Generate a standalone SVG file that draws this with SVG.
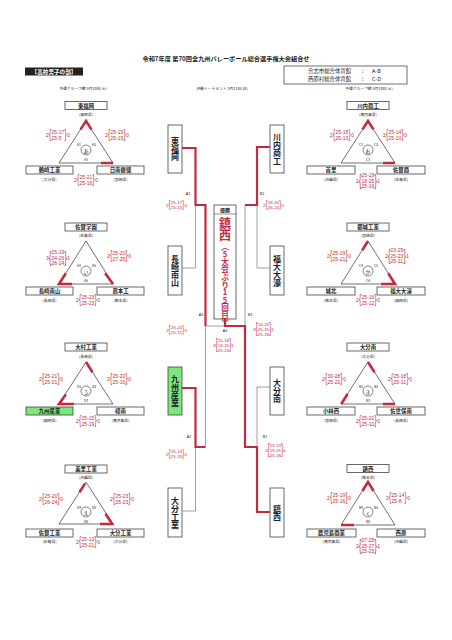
<svg xmlns="http://www.w3.org/2000/svg" width="452" height="640" viewBox="0 0 452 640">
<style>
text{font-family:"Noto Sans CJK JP","Noto Sans",sans-serif;fill:#222}
.title{font-size:6.2px;font-weight:bold;text-anchor:middle}
.sub{font-size:3.8px;text-anchor:middle}
.box{fill:#fff;stroke:#444;stroke-width:0.8}
.green{fill:#7ee67e}
.tn{font-size:5.4px;font-weight:bold;text-anchor:middle;dominant-baseline:central}
.pf{font-size:3.8px;text-anchor:middle;dominant-baseline:central}
.tri{fill:none;stroke:#333;stroke-width:0.7}
.win{fill:none;stroke:#c42a3e;stroke-width:2.6;stroke-linejoin:miter}
.cir{fill:none;stroke:#333;stroke-width:0.6}
.gl{font-size:5px;text-anchor:middle;dominant-baseline:central}
.lb{font-size:3.4px;text-anchor:middle;dominant-baseline:central}
.sc text{font-family:"Liberation Sans",Arial,sans-serif;fill:#c42a3e;font-size:5px}
.sc text.b2{font-size:12px}
.sc text.b3{font-size:17px}
.sm text{font-size:4.4px}
.sm text.b2{font-size:10.5px}
.sm text.b3{font-size:15px}
.vt{font-size:8px;font-weight:bold;writing-mode:vertical-rl;text-orientation:upright;text-anchor:middle}
.gray{fill:none;stroke:#888;stroke-width:0.8}
.red{fill:none;stroke:#c42a3e;stroke-width:2.2}
.mlb{font-size:3.6px;text-anchor:middle;font-family:"Liberation Sans",sans-serif}
</style>
<rect width="452" height="640" fill="#fff"/>

<g id="header">
<text class="title" x="226" y="61">令和7年度 第70回全九州バレーボール総合選手権大会組合せ</text>
<rect x="25" y="67.5" width="58" height="8" fill="#222"/>
<text x="54" y="73.6" style="font-size:5.6px;fill:#fff;text-anchor:middle;font-weight:bold">【高校男子の部】</text>
<rect x="284" y="66" width="123" height="18" fill="#fff" stroke="#333" stroke-width="0.7"/>
<text x="308" y="73" style="font-size:5.4px">合志市総合体育館</text>
<text x="362" y="73" style="font-size:5.4px">:</text>
<text x="372" y="73" style="font-size:5.4px">A-B</text>
<text x="308" y="81" style="font-size:5.4px">西原村総合体育館</text>
<text x="362" y="81" style="font-size:5.4px">:</text>
<text x="372" y="81" style="font-size:5.4px">C-D</text>
<text class="sub" x="83" y="89.5">予選グループ戦 5月10日(土)</text>
<text class="sub" x="222" y="89.5">決勝トーナメント 5月11日(日)</text>
<text class="sub" x="369" y="89.5">予選グループ戦 5月10日(土)</text>
</g>

<!-- Left group 1 -->
<g id="groupL1">
<rect class="box" x="65" y="101.5" width="42" height="8"/><text class="tn" x="86" y="105.5">東福岡</text><text class="pf" x="86" y="114">(福岡県)</text>
<path class="tri" d="M86,121 L59,163 L113,163 Z"/>
<path class="win" d="M80.6,129.4 L86,121 L91.4,129.4 M101,163 L113,163"/>
<circle class="cir" cx="86" cy="150" r="5"/><text class="gl" x="86" y="150">あ</text>
<text class="lb" x="79" y="144">A1</text><text class="lb" x="94" y="144">A2</text><text class="lb" x="86" y="159">A3</text>
<rect class="box" x="26" y="166" width="47" height="8"/><text class="tn" x="49.5" y="170">鶴崎工業</text><text class="pf" x="49.5" y="179">(大分県)</text>
<rect class="box" x="97" y="166" width="47" height="8"/><text class="tn" x="120.5" y="170">日南振徳</text><text class="pf" x="120.5" y="179">(宮崎県)</text>
<g class="sc" transform="translate(46,135)"><text x="0" y="1.8">2</text><text class="b2" transform="translate(3,3.4) scale(0.55,1)">{</text><text x="5.6" y="-1.2">25-17</text><text x="5.6" y="4.8">25-5</text><text class="b2" transform="translate(18.6,3.4) scale(0.55,1)">}</text><text x="21.2" y="1.8">0</text></g>
<g class="sc" transform="translate(105,135)"><text x="0" y="1.8">2</text><text class="b2" transform="translate(3,3.4) scale(0.55,1)">{</text><text x="5.6" y="-1.2">25-19</text><text x="5.6" y="4.8">25-15</text><text class="b2" transform="translate(18.6,3.4) scale(0.55,1)">}</text><text x="21.2" y="1.8">0</text></g>
<g class="sc" transform="translate(74,180)"><text x="0" y="1.8">2</text><text class="b2" transform="translate(3,3.4) scale(0.55,1)">{</text><text x="5.6" y="-1.2">25-21</text><text x="5.6" y="4.8">25-16</text><text class="b2" transform="translate(18.6,3.4) scale(0.55,1)">}</text><text x="21.2" y="1.8">0</text></g>
</g>

<!-- Left group 2 -->
<g id="groupL2">
<rect class="box" x="65" y="223" width="42" height="8"/><text class="tn" x="86" y="227">佐賀学園</text><text class="pf" x="86" y="235.5">(佐賀県)</text>
<path class="tri" d="M86,241 L59,284 L113,284 Z"/>
<path class="win" d="M65.8,273.2 L59,284 L72,284 M105.2,273.2 L113,284"/>
<circle class="cir" cx="86" cy="271" r="5"/><text class="gl" x="86" y="271">い</text>
<text class="lb" x="79" y="265">A4</text><text class="lb" x="94" y="265">A5</text><text class="lb" x="86" y="280">A6</text>
<rect class="box" x="26" y="287" width="47" height="8"/><text class="tn" x="49.5" y="291">長崎南山</text><text class="pf" x="49.5" y="300">(長崎県)</text>
<rect class="box" x="97" y="287" width="47" height="8"/><text class="tn" x="120.5" y="291">熊本工</text><text class="pf" x="120.5" y="300">(熊本県)</text>
<g class="sc" transform="translate(46,258)"><text x="0" y="1.8">3</text><text class="b3" transform="translate(3,4.7) scale(0.42,1)">{</text><text x="5.6" y="-3.8">25-19</text><text x="5.6" y="1.8">24-26</text><text x="5.6" y="7.4">26-24</text><text class="b3" transform="translate(18.6,4.7) scale(0.42,1)">}</text><text x="21.2" y="1.8">1</text></g>
<g class="sc" transform="translate(107,256)"><text x="0" y="1.8">2</text><text class="b2" transform="translate(3,3.4) scale(0.55,1)">{</text><text x="5.6" y="-1.2">25-20</text><text x="5.6" y="4.8">27-25</text><text class="b2" transform="translate(18.6,3.4) scale(0.55,1)">}</text><text x="21.2" y="1.8">0</text></g>
<g class="sc" transform="translate(76,300)"><text x="0" y="1.8">2</text><text class="b2" transform="translate(3,3.4) scale(0.55,1)">{</text><text x="5.6" y="-1.2">25-23</text><text x="5.6" y="4.8">25-23</text><text class="b2" transform="translate(18.6,3.4) scale(0.55,1)">}</text><text x="21.2" y="1.8">0</text></g>
</g>

<!-- Left group 3 -->
<g id="groupL3">
<rect class="box" x="65" y="343" width="42" height="8"/><text class="tn" x="86" y="347">大村工業</text><text class="pf" x="86" y="356">(長崎県)</text>
<path class="tri" d="M86,362 L59,404 L113,404 Z"/>
<path class="win" d="M86,362 L92.5,372.2 M65.8,394.6 L59,404 L74,404"/>
<circle class="cir" cx="86" cy="391" r="5"/><text class="gl" x="86" y="391">う</text>
<text class="lb" x="79" y="386">D1</text><text class="lb" x="94" y="386">D2</text><text class="lb" x="86" y="400">D3</text>
<rect class="box green" x="26" y="407" width="47" height="8"/><text class="tn" x="49.5" y="411">九州産業</text><text class="pf" x="49.5" y="420">(福岡県)</text>
<rect class="box" x="97" y="407" width="47" height="8"/><text class="tn" x="120.5" y="411">樟南</text><text class="pf" x="120.5" y="420">(鹿児島県)</text>
<g class="sc" transform="translate(39,379)"><text x="0" y="1.8">2</text><text class="b2" transform="translate(3,3.4) scale(0.55,1)">{</text><text x="5.6" y="-1.2">25-21</text><text x="5.6" y="4.8">25-21</text><text class="b2" transform="translate(18.6,3.4) scale(0.55,1)">}</text><text x="21.2" y="1.8">0</text></g>
<g class="sc" transform="translate(107,379)"><text x="0" y="1.8">2</text><text class="b2" transform="translate(3,3.4) scale(0.55,1)">{</text><text x="5.6" y="-1.2">25-20</text><text x="5.6" y="4.8">25-16</text><text class="b2" transform="translate(18.6,3.4) scale(0.55,1)">}</text><text x="21.2" y="1.8">0</text></g>
<g class="sc" transform="translate(76,421)"><text x="0" y="1.8">2</text><text class="b2" transform="translate(3,3.4) scale(0.55,1)">{</text><text x="5.6" y="-1.2">25-15</text><text x="5.6" y="4.8">25-19</text><text class="b2" transform="translate(18.6,3.4) scale(0.55,1)">}</text><text x="21.2" y="1.8">0</text></g>
</g>

<!-- Left group 4 -->
<g id="groupL4">
<rect class="box" x="65" y="465" width="42" height="8"/><text class="tn" x="86" y="469">美里工業</text><text class="pf" x="86" y="477.5">(沖縄県)</text>
<path class="tri" d="M86,482 L59,524 L113,524 Z"/>
<path class="win" d="M85,483.6 L79.5,492.2 M105.5,513.8 L112.2,524 L100,524"/>
<circle class="cir" cx="86" cy="512" r="5"/><text class="gl" x="86" y="512">え</text>
<text class="lb" x="79" y="507">D4</text><text class="lb" x="94" y="507">D5</text><text class="lb" x="86" y="521">D6</text>
<rect class="box" x="26" y="529" width="47" height="8"/><text class="tn" x="49.5" y="533">佐賀工業</text><text class="pf" x="49.5" y="541.5">(佐賀県)</text>
<rect class="box" x="97" y="529" width="47" height="8"/><text class="tn" x="120.5" y="533">大分工業</text><text class="pf" x="120.5" y="541.5">(大分県)</text>
<g class="sc" transform="translate(39,499)"><text x="0" y="1.8">2</text><text class="b2" transform="translate(3,3.4) scale(0.55,1)">{</text><text x="5.6" y="-1.2">25-20</text><text x="5.6" y="4.8">26-24</text><text class="b2" transform="translate(18.6,3.4) scale(0.55,1)">}</text><text x="21.2" y="1.8">0</text></g>
<g class="sc" transform="translate(110,499)"><text x="0" y="1.8">2</text><text class="b2" transform="translate(3,3.4) scale(0.55,1)">{</text><text x="5.6" y="-1.2">25-23</text><text x="5.6" y="4.8">25-23</text><text class="b2" transform="translate(18.6,3.4) scale(0.55,1)">}</text><text x="21.2" y="1.8">0</text></g>
<g class="sc" transform="translate(76,542)"><text x="0" y="1.8">2</text><text class="b2" transform="translate(3,3.4) scale(0.55,1)">{</text><text x="5.6" y="-1.2">25-13</text><text x="5.6" y="4.8">25-21</text><text class="b2" transform="translate(18.6,3.4) scale(0.55,1)">}</text><text x="21.2" y="1.8">0</text></g>
</g>

<!-- Right group 1 -->
<g id="groupR1">
<rect class="box" x="347" y="101.5" width="42" height="8"/><text class="tn" x="368" y="105.5">川内商工</text><text class="pf" x="368" y="114">(鹿児島県)</text>
<path class="tri" d="M368,121 L341,163 L395,163 Z"/>
<path class="win" d="M362.6,129.4 L368,121 L373.4,129.4 M383,163 L395,163"/>
<circle class="cir" cx="368" cy="150" r="5"/><text class="gl" x="368" y="150">お</text>
<text class="lb" x="361" y="144">C1</text><text class="lb" x="376" y="144">C2</text><text class="lb" x="368" y="159">C3</text>
<rect class="box" x="307" y="166" width="48" height="8"/><text class="tn" x="331" y="170">首里</text><text class="pf" x="331" y="179">(沖縄県)</text>
<rect class="box" x="377" y="166" width="48" height="8"/><text class="tn" x="401" y="170">佐賀商</text><text class="pf" x="401" y="179">(佐賀県)</text>
<g class="sc" transform="translate(330,135)"><text x="0" y="1.8">2</text><text class="b2" transform="translate(3,3.4) scale(0.55,1)">{</text><text x="5.6" y="-1.2">25-18</text><text x="5.6" y="4.8">25-13</text><text class="b2" transform="translate(18.6,3.4) scale(0.55,1)">}</text><text x="21.2" y="1.8">0</text></g>
<g class="sc" transform="translate(383,135)"><text x="0" y="1.8">2</text><text class="b2" transform="translate(3,3.4) scale(0.55,1)">{</text><text x="5.6" y="-1.2">25-14</text><text x="5.6" y="4.8">25-10</text><text class="b2" transform="translate(18.6,3.4) scale(0.55,1)">}</text><text x="21.2" y="1.8">0</text></g>
<g class="sc" transform="translate(356,181)"><text x="0" y="1.8">2</text><text class="b3" transform="translate(3,4.7) scale(0.42,1)">{</text><text x="5.6" y="-3.8">25-19</text><text x="5.6" y="1.8">18-25</text><text x="5.6" y="7.4">25-16</text><text class="b3" transform="translate(18.6,4.7) scale(0.42,1)">}</text><text x="21.2" y="1.8">1</text></g>
</g>

<!-- Right group 2 -->
<g id="groupR2">
<rect class="box" x="347" y="223" width="42" height="8"/><text class="tn" x="368" y="227">都城工業</text><text class="pf" x="368" y="235.5">(宮崎県)</text>
<path class="tri" d="M368,241 L341,284 L395,284 Z"/>
<path class="win" d="M368,241 L362.2,250.3 M388.2,273.2 L395,284 L381,284"/>
<circle class="cir" cx="368" cy="271" r="5"/><text class="gl" x="368" y="271">か</text>
<text class="lb" x="361" y="265">C4</text><text class="lb" x="376" y="265">C5</text><text class="lb" x="368" y="280">C6</text>
<rect class="box" x="307" y="287" width="48" height="8"/><text class="tn" x="331" y="291">城北</text><text class="pf" x="331" y="300">(熊本県)</text>
<rect class="box" x="377" y="287" width="48" height="8"/><text class="tn" x="401" y="291">福大大濠</text><text class="pf" x="401" y="300">(福岡県)</text>
<g class="sc" transform="translate(327,256)"><text x="0" y="1.8">2</text><text class="b2" transform="translate(3,3.4) scale(0.55,1)">{</text><text x="5.6" y="-1.2">25-19</text><text x="5.6" y="4.8">25-21</text><text class="b2" transform="translate(18.6,3.4) scale(0.55,1)">}</text><text x="21.2" y="1.8">0</text></g>
<g class="sc" transform="translate(385,256)"><text x="0" y="1.8">2</text><text class="b3" transform="translate(3,4.7) scale(0.42,1)">{</text><text x="5.6" y="-3.8">23-25</text><text x="5.6" y="1.8">25-23</text><text x="5.6" y="7.4">25-11</text><text class="b3" transform="translate(18.6,4.7) scale(0.42,1)">}</text><text x="21.2" y="1.8">1</text></g>
<g class="sc" transform="translate(356,300)"><text x="0" y="1.8">2</text><text class="b2" transform="translate(3,3.4) scale(0.55,1)">{</text><text x="5.6" y="-1.2">25-16</text><text x="5.6" y="4.8">25-12</text><text class="b2" transform="translate(18.6,3.4) scale(0.55,1)">}</text><text x="21.2" y="1.8">0</text></g>
</g>

<!-- Right group 3 -->
<g id="groupR3">
<rect class="box" x="347" y="343" width="42" height="8"/><text class="tn" x="368" y="347">大分南</text><text class="pf" x="368" y="356">(大分県)</text>
<path class="tri" d="M368,362 L341,404 L395,404 Z"/>
<path class="win" d="M368,362 L374.5,372.2 M341.2,404 L347.6,394 M383,404 L395,404"/>
<circle class="cir" cx="368" cy="391" r="5"/><text class="gl" x="368" y="391">き</text>
<text class="lb" x="361" y="386">B1</text><text class="lb" x="376" y="386">B2</text><text class="lb" x="368" y="400">B3</text>
<rect class="box" x="307" y="407" width="48" height="8"/><text class="tn" x="331" y="411">小林西</text><text class="pf" x="331" y="420">(宮崎県)</text>
<rect class="box" x="377" y="407" width="48" height="8"/><text class="tn" x="401" y="411">佐世保南</text><text class="pf" x="401" y="420">(長崎県)</text>
<g class="sc" transform="translate(322,379)"><text x="0" y="1.8">2</text><text class="b2" transform="translate(3,3.4) scale(0.55,1)">{</text><text x="5.6" y="-1.2">30-28</text><text x="5.6" y="4.8">25-22</text><text class="b2" transform="translate(18.6,3.4) scale(0.55,1)">}</text><text x="21.2" y="1.8">0</text></g>
<g class="sc" transform="translate(388,379)"><text x="0" y="1.8">2</text><text class="b2" transform="translate(3,3.4) scale(0.55,1)">{</text><text x="5.6" y="-1.2">25-18</text><text x="5.6" y="4.8">25-11</text><text class="b2" transform="translate(18.6,3.4) scale(0.55,1)">}</text><text x="21.2" y="1.8">0</text></g>
<g class="sc" transform="translate(356,421)"><text x="0" y="1.8">2</text><text class="b2" transform="translate(3,3.4) scale(0.55,1)">{</text><text x="5.6" y="-1.2">25-21</text><text x="5.6" y="4.8">25-10</text><text class="b2" transform="translate(18.6,3.4) scale(0.55,1)">}</text><text x="21.2" y="1.8">0</text></g>
</g>

<!-- Right group 4 -->
<g id="groupR4">
<rect class="box" x="347" y="464.5" width="42" height="8"/><text class="tn" x="368" y="468.5">鎮西</text><text class="pf" x="368" y="477.5">(熊本県)</text>
<path class="tri" d="M368,482 L341,525 L395,525 Z"/>
<path class="win" d="M362.4,491 L368,482 L373.6,491 M341,525 L354,525"/>
<circle class="cir" cx="368" cy="512" r="5"/><text class="gl" x="368" y="512">く</text>
<text class="lb" x="361" y="507">B4</text><text class="lb" x="376" y="507">B5</text><text class="lb" x="368" y="521">B6</text>
<rect class="box" x="307" y="529" width="49" height="8"/><text class="tn" x="331.5" y="533">鹿児島商業</text><text class="pf" x="331.5" y="541.5">(鹿児島県)</text>
<rect class="box" x="377" y="529" width="48" height="8"/><text class="tn" x="401" y="533">西原</text><text class="pf" x="401" y="541.5">(沖縄県)</text>
<g class="sc" transform="translate(327,498)"><text x="0" y="1.8">2</text><text class="b2" transform="translate(3,3.4) scale(0.55,1)">{</text><text x="5.6" y="-1.2">25-19</text><text x="5.6" y="4.8">25-16</text><text class="b2" transform="translate(18.6,3.4) scale(0.55,1)">}</text><text x="21.2" y="1.8">0</text></g>
<g class="sc" transform="translate(386,498)"><text x="0" y="1.8">2</text><text class="b2" transform="translate(3,3.4) scale(0.55,1)">{</text><text x="5.6" y="-1.2">25-14</text><text x="5.6" y="4.8">25-8</text><text class="b2" transform="translate(18.6,3.4) scale(0.55,1)">}</text><text x="21.2" y="1.8">0</text></g>
<g class="sc" transform="translate(356,546)"><text x="0" y="1.8">2</text><text class="b3" transform="translate(3,4.7) scale(0.42,1)">{</text><text x="5.6" y="-3.8">27-25</text><text x="5.6" y="1.8">25-27</text><text x="5.6" y="7.4">25-23</text><text class="b3" transform="translate(18.6,4.7) scale(0.42,1)">}</text><text x="21.2" y="1.8">1</text></g>
</g>

<!-- Tournament nodes -->
<g id="tHigashiFukuoka"><rect class="box" x="168" y="125" width="14" height="48"/><text class="vt" x="175" y="149">東福岡</text></g>
<g id="tNagasakiNanzan"><rect class="box" x="168" y="246" width="14" height="49"/><text class="vt" x="175" y="270.5">長崎南山</text></g>
<g id="tKyushuSangyo"><rect class="box green" x="168" y="367" width="14" height="48"/><text class="vt" x="175" y="391">九州産業</text></g>
<g id="tOitaKogyo"><rect class="box" x="168" y="488" width="14" height="49"/><text class="vt" x="175" y="512.5">大分工業</text></g>
<g id="tSendaiShoko"><rect class="box" x="270" y="125" width="14" height="48"/><text class="vt" x="277" y="149">川内商工</text></g>
<g id="tFukudaiOhori"><rect class="box" x="270" y="246" width="14" height="49"/><text class="vt" x="277" y="270.5">福大大濠</text></g>
<g id="tOitaMinami"><rect class="box" x="270" y="367" width="14" height="48"/><text class="vt" x="277" y="391">大分南</text></g>
<g id="tChinzei"><rect class="box" x="270" y="488" width="14" height="49"/><text class="vt" x="277" y="512.5">鎮西</text></g>
<g id="winner">
<rect x="214" y="205" width="22" height="114" fill="#fff" stroke="#444" stroke-width="0.8"/>
<line x1="214" y1="214" x2="236" y2="214" stroke="#444" stroke-width="0.6"/>
<text x="225" y="211.5" style="font-size:5px;font-weight:bold;text-anchor:middle">優勝</text>
<text x="225" y="217" style="font-size:12px;font-weight:bold;fill:#c42a3e;writing-mode:vertical-rl;text-orientation:upright">鎮西</text>
<text x="225" y="243" style="font-size:7.6px;font-weight:bold;fill:#c42a3e;writing-mode:vertical-rl;text-orientation:upright">（5大会ぶり15回目）</text>
</g>

<!-- Connectors -->
<g id="connectors">
<path class="gray" d="M182,268 H195.5 V205 M182,511 H195.5 V447 M205.5,326 V447 M270,268 H257 V205 M245,205 V326 M270,387 H257 V447 M205.5,326 H225"/>
<path class="red" d="M182,148 H195.5 V205 H205.5 V326 M182,388 H195.5 V447 H205.5 M270,147 H257 V205 H245 M270,512 H257 V447 H245 V326 H225 V319"/>
</g>

<!-- Tournament labels and scores -->
<g id="tlabels">
<text class="mlb" x="188" y="195">A1</text>
<text class="mlb" x="201" y="316">A3</text>
<text class="mlb" x="225" y="331.5">A4</text>
<text class="mlb" x="189" y="437.5">A2</text>
<text class="mlb" x="262" y="195">B2</text>
<text class="mlb" x="250" y="316">B3</text>
<text class="mlb" x="265" y="437.5">B1</text>
<g class="sc sm" transform="translate(166,205)"><text x="0" y="1.6">2</text><text class="b2" transform="translate(2.6,3.0) scale(0.55,1)">{</text><text x="4.8" y="-0.9">25-17</text><text x="4.8" y="4.1">25-13</text><text class="b2" transform="translate(16.2,3.0) scale(0.55,1)">}</text><text x="18.4" y="1.6">0</text></g>
<g class="sc sm" transform="translate(263,205)"><text x="0" y="1.6">2</text><text class="b2" transform="translate(2.6,3.0) scale(0.55,1)">{</text><text x="4.8" y="-0.9">28-26</text><text x="4.8" y="4.1">26-24</text><text class="b2" transform="translate(16.2,3.0) scale(0.55,1)">}</text><text x="18.4" y="1.6">0</text></g>
<g class="sc sm" transform="translate(166,330)"><text x="0" y="1.6">2</text><text class="b2" transform="translate(2.6,3.0) scale(0.55,1)">{</text><text x="4.8" y="-0.9">26-24</text><text x="4.8" y="4.1">25-17</text><text class="b2" transform="translate(16.2,3.0) scale(0.55,1)">}</text><text x="18.4" y="1.6">0</text></g>
<g class="sc sm" transform="translate(166,454)"><text x="0" y="1.6">2</text><text class="b2" transform="translate(2.6,3.0) scale(0.55,1)">{</text><text x="4.8" y="-0.9">25-13</text><text x="4.8" y="4.1">25-19</text><text class="b2" transform="translate(16.2,3.0) scale(0.55,1)">}</text><text x="18.4" y="1.6">0</text></g>
<g class="sc sm" transform="translate(213,345)"><text x="0" y="1.6">2</text><text class="b3" transform="translate(2.6,4.0) scale(0.42,1)">{</text><text x="4.8" y="-3.4">25-18</text><text x="4.8" y="1.6">18-25</text><text x="4.8" y="6.6">25-23</text><text class="b3" transform="translate(16.2,4.0) scale(0.42,1)">}</text><text x="18.4" y="1.6">1</text></g>
<g class="sc sm" transform="translate(253,329)"><text x="0" y="1.6">2</text><text class="b3" transform="translate(2.6,4.0) scale(0.42,1)">{</text><text x="4.8" y="-3.4">18-25</text><text x="4.8" y="1.6">25-15</text><text x="4.8" y="6.6">25-18</text><text class="b3" transform="translate(16.2,4.0) scale(0.42,1)">}</text><text x="18.4" y="1.6">1</text></g>
<g class="sc sm" transform="translate(265,450)"><text x="0" y="1.6">2</text><text class="b3" transform="translate(2.6,4.0) scale(0.42,1)">{</text><text x="4.8" y="-3.4">25-13</text><text x="4.8" y="1.6">19-25</text><text x="4.8" y="6.6">25-18</text><text class="b3" transform="translate(16.2,4.0) scale(0.42,1)">}</text><text x="18.4" y="1.6">1</text></g>
</g>
</svg>
